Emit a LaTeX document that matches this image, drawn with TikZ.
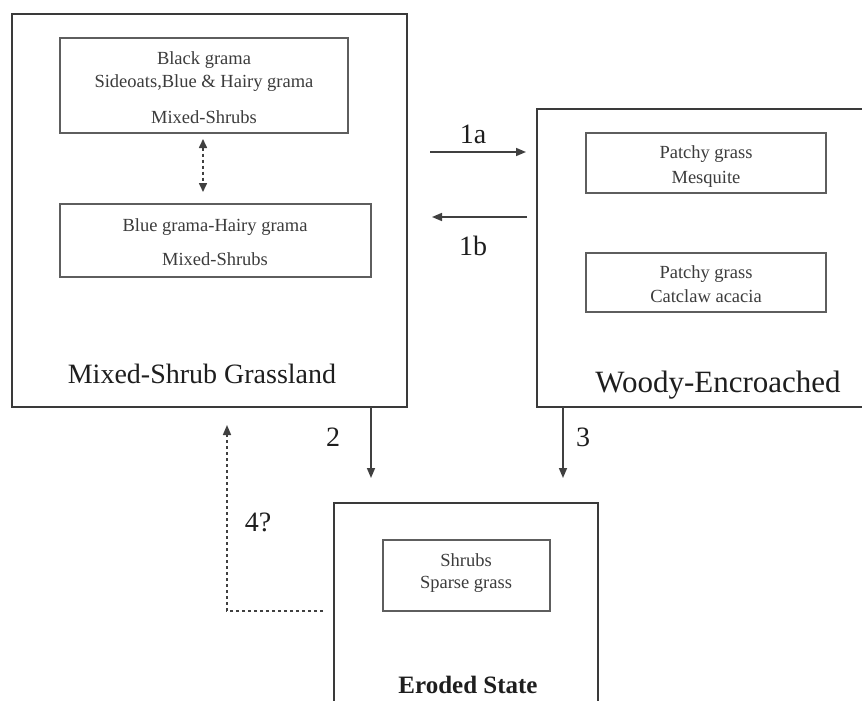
\documentclass[tikz,border=0pt]{standalone}
\usepackage{fontspec}
\setmainfont{Liberation Serif}
\usetikzlibrary{arrows.meta}
\definecolor{boxline}{HTML}{3A3A3A}
\definecolor{innerline}{HTML}{5E5E5E}
\definecolor{smalltext}{HTML}{3C3C3C}
\definecolor{bigtext}{HTML}{1E1E1E}
\definecolor{arrowline}{HTML}{404040}
\begin{document}
\begin{tikzpicture}[x=1pt,y=-1pt,
  outerbox/.style={draw=boxline, line width=2.2pt, inner sep=0pt, outer sep=0pt, anchor=north west},
  innerbox/.style={draw=innerline, line width=1.8pt, inner sep=0pt, outer sep=0pt, anchor=north west},
  smalltxt/.style={text=smalltext, font=\fontsize{18.5}{20}\selectfont, anchor=base, inner sep=0pt},
  bigtxt/.style={text=bigtext, font=\fontsize{28}{30}\selectfont, anchor=base, inner sep=0pt},
  numtxt/.style={text=bigtext, font=\fontsize{28}{30}\selectfont, anchor=base, inner sep=0pt},
  tip/.style={-{Triangle[length=10pt,width=8pt]}},
  arr/.style={draw=arrowline, line width=1.6pt, tip},
  darr/.style={draw=arrowline, line width=1.6pt, dash pattern=on 3pt off 3pt},
]
\clip (0,0) rectangle (862,701);
\fill[white] (0,0) rectangle (862,701);

% Mixed-Shrub Grassland
\node[outerbox, minimum width=395, minimum height=393] (A) at (12,14) {};
\node[innerbox, minimum width=288, minimum height=95] (a1) at (60,38) {};
\node[innerbox, minimum width=311, minimum height=73] (a2) at (60,204) {};
\node[smalltxt] (a1t1) at (204,65) {Black grama};
\node[smalltxt] (a1t2) at (204,88) {Sideoats,Blue \& Hairy grama};
\node[smalltxt] (a1t3) at (204,123) {Mixed-Shrubs};
\node[smalltxt] (a2t1) at (215,231) {Blue grama-Hairy grama};
\node[smalltxt] (a2t2) at (215,265) {Mixed-Shrubs};
\node[bigtxt] (Al) at (202,383) {Mixed-Shrub Grassland};

% Woody-Encroached
\node[outerbox, minimum width=333, minimum height=298] (B) at (537,109) {};
\node[innerbox, minimum width=240, minimum height=60] (b1) at (586,133) {};
\node[innerbox, minimum width=240, minimum height=59] (b2) at (586,253) {};
\node[smalltxt] (b1t1) at (706,158) {Patchy grass};
\node[smalltxt] (b1t2) at (706,183) {Mesquite};
\node[smalltxt] (b2t1) at (706,278) {Patchy grass};
\node[smalltxt] (b2t2) at (706,302) {Catclaw acacia};
\node[bigtxt, font=\fontsize{31}{33}\selectfont] (Bl) at (718,392) {Woody-Encroached};

% Eroded State
\node[outerbox, minimum width=264, minimum height=215] (C) at (334,503) {};
\node[innerbox, minimum width=167, minimum height=71] (c1) at (383,540) {};
\node[smalltxt] (c1t1) at (466,566) {Shrubs};
\node[smalltxt] (c1t2) at (466,588) {Sparse grass};
\node[bigtxt, font=\bfseries\fontsize{25}{27}\selectfont] (Cl) at (468,693) {Eroded State};

% connectors
\coordinate (y1a) at (0,152);
\coordinate (y1b) at (0,217);
\coordinate (x2) at (371,0);
\coordinate (x3) at (563,0);
\coordinate (x4) at (227,0);
\coordinate (xd) at (203,0);

\draw[darr, {Triangle[length=9pt,width=8pt]}-{Triangle[length=9pt,width=8pt]}, shorten <=6pt, shorten >=12pt]
  (a1.south -| xd) -- (a2.north -| xd);
\draw[arr, shorten <=23pt, shorten >=11pt] (A.east |- y1a) -- (B.west |- y1a);
\draw[arr, shorten <=10pt, shorten >=25pt] (B.west |- y1b) -- (A.east |- y1b);
\draw[arr, shorten >=25pt] (A.south -| x2) -- (C.north -| x2);
\draw[arr, shorten >=25pt] (B.south -| x3) -- (C.north -| x3);
\draw[darr, tip, shorten <=11pt, shorten >=18pt]
  (C.west |- c1.south) -| (A.south -| x4);

% labels
\node[numtxt] (l1a) at (473,143) {1a};
\node[numtxt] (l1b) at (473,255) {1b};
\node[numtxt] (l2) at (333,446) {2};
\node[numtxt] (l3) at (583,446) {3};
\node[numtxt] (l4) at (258,531) {4?};
\end{tikzpicture}
\end{document}
